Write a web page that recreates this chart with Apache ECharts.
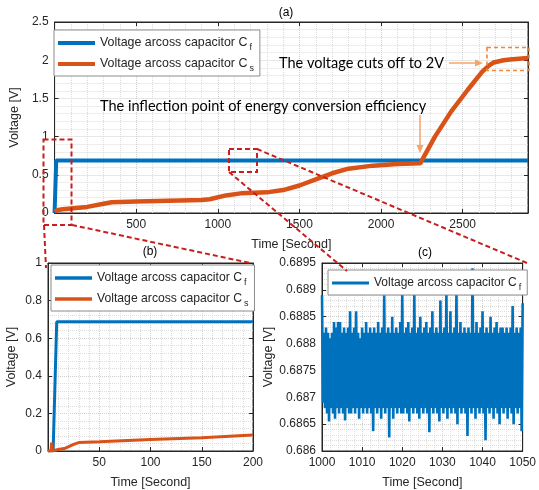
<!DOCTYPE html>
<html><head><meta charset="utf-8">
<script src="https://cdn.jsdelivr.net/npm/echarts@6/dist/echarts.min.js"></script>
<style>html,body{margin:0;padding:0;background:#fff}#c{width:539px;height:490px}</style>
</head><body><div id="c"></div>
<script>
// ---- Panel (a): full record ----
const cfTimeA = [0, 5, 10, 2900];
const cfVoltA = [0, 0, 0.6875, 0.6875];
const csTimeA = [0, 20, 50, 100, 200, 300, 350, 500, 700, 900, 950, 1050, 1150, 1300, 1400, 1500, 1600, 1700, 1800, 1950, 2100, 2240, 2330, 2430, 2530, 2620, 2660, 2690, 2750, 2790, 2900];
const csVoltA = [0.02, 0.04, 0.05, 0.06, 0.08, 0.12, 0.14, 0.15, 0.16, 0.17, 0.18, 0.23, 0.26, 0.27, 0.30, 0.36, 0.44, 0.52, 0.58, 0.62, 0.64, 0.65, 1.0, 1.33, 1.61, 1.85, 1.93, 1.97, 2.0, 2.01, 2.03];
// ---- Panel (b): first 200 s ----
const cfTimeB = [0, 5, 8.5, 200];
const cfVoltB = [0, 0, 0.6875, 0.6875];
const csTimeB = [0, 3, 3.5, 4, 6, 10, 17, 25, 30, 50, 100, 150, 200];
const csVoltB = [0, 0, 0.045, 0, 0.003, 0.008, 0.015, 0.035, 0.045, 0.049, 0.061, 0.07, 0.085];
// ---- Panel (c): 1000-1050 s, ripple envelope per 0.5 s sample ----
const cfZoomStart = 1000, cfZoomStep = 0.5;
const cfHigh = [0.6889,0.6882,0.6883,0.6882,0.6881,0.6882,0.6884,0.6883,0.6884,0.6884,0.6882,0.6883,0.6882,0.6883,0.6886,0.6882,0.6883,0.6886,0.6882,0.6881,0.6883,0.6882,0.6884,0.6882,0.6883,0.6882,0.6883,0.6882,0.6884,0.6882,0.6883,0.6889,0.6882,0.6883,0.6882,0.6885,0.6882,0.6883,0.6882,0.6884,0.68895,0.6882,0.6883,0.6884,0.6882,0.6883,0.68895,0.6882,0.6883,0.6885,0.6882,0.6883,0.6884,0.6882,0.6883,0.6886,0.6882,0.6883,0.6882,0.6888,0.6882,0.6883,0.68895,0.6882,0.6886,0.6882,0.6883,0.68895,0.6882,0.6884,0.6882,0.6883,0.6882,0.6883,0.6882,0.6894,0.6882,0.6884,0.6882,0.6883,0.6886,0.6882,0.6883,0.6882,0.6885,0.6882,0.6883,0.6884,0.6882,0.6883,0.6883,0.6882,0.6883,0.6882,0.6883,0.6887,0.6882,0.6883,0.6882,0.6883,0.68875];
const cfLow = [0.6869,0.6868,0.6867,0.68655,0.6868,0.6867,0.6866,0.6868,0.6867,0.6868,0.6867,0.68657,0.6868,0.6867,0.6867,0.6868,0.6867,0.6868,0.6866,0.6868,0.6867,0.6868,0.6867,0.6868,0.6867,0.68637,0.6868,0.6867,0.6868,0.6866,0.6868,0.6867,0.6868,0.68625,0.6868,0.6866,0.6868,0.6867,0.6868,0.6867,0.6867,0.6868,0.6867,0.68655,0.6868,0.6867,0.6868,0.6867,0.6866,0.6868,0.6867,0.6868,0.6867,0.68635,0.6868,0.6867,0.6868,0.6867,0.68655,0.6868,0.6867,0.6868,0.6866,0.6868,0.6867,0.6868,0.6867,0.6865,0.6868,0.6867,0.6868,0.6867,0.68628,0.6868,0.6867,0.6868,0.6866,0.6868,0.6867,0.6868,0.6867,0.6862,0.6868,0.6867,0.6868,0.6866,0.6868,0.6867,0.6865,0.6868,0.6867,0.6868,0.6866,0.6868,0.6867,0.6865,0.6868,0.6867,0.6868,0.68637,0.6869];
// ---- text ----
const legendNames = {Cf: ['Voltage arcoss capacitor C', 'f'], Cs: ['Voltage arcoss capacitor C', 's']};
const panelTitles = ['(a)', '(b)', '(c)'];
const xName = 'Time [Second]', yName = 'Voltage [V]';
const note1 = 'The voltage cuts off to 2V';
const note2 = 'The inflection point of energy conversion efficiency';

const zip = (a, b) => a.map((v, i) => [v, b[i]]);
const cfZoom = [];
cfHigh.forEach((h, i) => {
  const t = cfZoomStart + i * cfZoomStep;
  cfZoom.push([t, h]);
  if (i < cfHigh.length - 1) cfZoom.push([t + cfZoomStep / 2, cfLow[i]]);
});

const BLUE = '#0072BD', ORANGE = '#D95319', INK = '#262626', FONT = '"Liberation Sans", Arial, sans-serif';
const gridBox = {show: true, borderColor: INK, borderWidth: 1, backgroundColor: '#fff'};
const plain = v => String(parseFloat(Number(v).toFixed(5)));
function mainAxis(extra, labelExtra) {
  return Object.assign({
    type: 'value', nameLocation: 'middle',
    nameTextStyle: {color: INK, fontSize: 12.5, fontFamily: FONT},
    axisLine: {show: true, onZero: false, lineStyle: {color: INK, width: 1}},
    axisTick: {show: true, inside: true, length: 4, lineStyle: {color: INK}},
    axisLabel: Object.assign({color: INK, fontSize: 12, fontFamily: FONT, margin: 6, formatter: plain}, labelExtra || {}),
    splitLine: {show: true, lineStyle: {color: '#cfcfcf', type: 'dotted', width: 1}},
    minorTick: {show: false, splitNumber: 5},
    minorSplitLine: {show: true, lineStyle: {color: '#dcdcdc', type: 'dotted', width: 1}}
  }, extra);
}
function mirrorAxis(extra) {
  return Object.assign({
    type: 'value',
    axisLine: {show: true, onZero: false, lineStyle: {color: INK, width: 1}},
    axisTick: {show: true, inside: true, length: 4, lineStyle: {color: INK}},
    axisLabel: {show: false}, splitLine: {show: false}
  }, extra);
}
const xa = {min: 0, max: 2900, interval: 500};
const xb = {min: 0, max: 200, interval: 50};
const xc = {min: 1000, max: 1050, interval: 10};
const ya = {min: 0, max: 2.5, interval: 0.5};
const yb = {min: 0, max: 1, interval: 0.2};
const yc = {min: 0.686, max: 0.6895, interval: 0.0005};

function legendFmt(n) { return '{m|' + legendNames[n][0] + '}{s|' + legendNames[n][1] + '}'; }
function legend(left, top, data, ih, gap, fs) {
  return {
    orient: 'vertical', left: left, top: top, data: data, icon: 'rect',
    itemWidth: 37, itemHeight: ih, itemGap: gap,
    backgroundColor: '#fff', borderColor: '#8c8c8c', borderWidth: 1, borderRadius: 0,
    padding: [4, 6, 3, 4], selectedMode: false,
    formatter: legendFmt,
    textStyle: {color: INK, fontFamily: FONT, fontSize: fs,
      rich: {m: {fontSize: fs, fontFamily: FONT, color: INK, lineHeight: 18},
             s: {fontSize: 9, fontFamily: FONT, color: INK, padding: [9, 0, 0, 2], lineHeight: 18}}}
  };
}

const red = {stroke: '#C81E1E', lineWidth: 2, lineDash: [5, 3], fill: null};
const lightO = '#F4A46A';
function seg(x1, y1, x2, y2, style) { return {type: 'line', shape: {x1, y1, x2, y2}, style: Object.assign({}, style), z: 100}; }
function txt(x, y, t, font, align) {
  return {type: 'text', x: x, y: y, z: 100, style: {text: t, font: font, fill: '#000',
    textAlign: align || 'center', textVerticalAlign: 'middle', align: align || 'center', verticalAlign: 'middle'}};
}

const option = {
  animation: false,
  grid: [
    Object.assign({left: 44, top: 22, width: 484, height: 191}, gridBox),
    Object.assign({left: 48, top: 263, width: 205, height: 191}, gridBox),
    Object.assign({left: 322, top: 263, width: 207, height: 190}, gridBox)
  ],
  xAxis: [
    mainAxis(Object.assign({gridIndex: 0, name: xName, nameGap: 25}, xa), {showMinLabel: false, showMaxLabel: false}),
    mainAxis(Object.assign({gridIndex: 1, name: xName, nameGap: 25}, xb), {showMinLabel: false}),
    mainAxis(Object.assign({gridIndex: 2, name: xName, nameGap: 25}, xc)),
    mirrorAxis(Object.assign({gridIndex: 0, position: 'top'}, xa)),
    mirrorAxis(Object.assign({gridIndex: 1, position: 'top'}, xb)),
    mirrorAxis(Object.assign({gridIndex: 2, position: 'top'}, xc))
  ],
  yAxis: [
    mainAxis(Object.assign({gridIndex: 0, name: yName, nameGap: 29}, ya)),
    mainAxis(Object.assign({gridIndex: 1, name: yName, nameGap: 30}, yb)),
    mainAxis(Object.assign({gridIndex: 2, name: yName, nameGap: 46}, yc)),
    mirrorAxis(Object.assign({gridIndex: 0, position: 'right'}, ya)),
    mirrorAxis(Object.assign({gridIndex: 1, position: 'right'}, yb)),
    mirrorAxis(Object.assign({gridIndex: 2, position: 'right'}, yc))
  ],
  legend: [
    legend(54, 30, ['Cf', 'Cs'], 4, 3, 12.4),
    legend(51, 265, ['Cf', 'Cs'], 3.5, 3, 12.2),
    legend(328, 270, ['Cf'], 3, 3, 12)
  ],
  series: [
    {name: 'Cf', type: 'line', xAxisIndex: 0, yAxisIndex: 0, data: zip(cfTimeA, cfVoltA), showSymbol: false, color: BLUE, lineStyle: {width: 4}},
    {name: 'Cs', type: 'line', xAxisIndex: 0, yAxisIndex: 0, data: zip(csTimeA, csVoltA), showSymbol: false, color: ORANGE, lineStyle: {width: 4.5}},
    {name: 'Cf', type: 'line', xAxisIndex: 1, yAxisIndex: 1, data: zip(cfTimeB, cfVoltB), showSymbol: false, color: BLUE, lineStyle: {width: 3}},
    {name: 'Cs', type: 'line', xAxisIndex: 1, yAxisIndex: 1, data: zip(csTimeB, csVoltB), showSymbol: false, color: ORANGE, lineStyle: {width: 3}},
    {name: 'Cf', type: 'line', xAxisIndex: 2, yAxisIndex: 2, data: cfZoom, showSymbol: false, color: BLUE, lineStyle: {width: 2.6}}
  ],
  graphic: [
    {type: 'rect', shape: {x: 43.5, y: 139.5, width: 28, height: 85.5}, style: Object.assign({}, red), z: 100},
    {type: 'rect', shape: {x: 229, y: 149, width: 28, height: 23}, style: Object.assign({}, red), z: 100},
    seg(44, 225, 46, 268, red),
    seg(72, 225, 250, 263, red),
    seg(229, 172, 347, 271, red),
    seg(257, 149, 527, 263, red),
    {type: 'rect', shape: {x: 487, y: 47.5, width: 42, height: 23}, style: {stroke: '#F0883A', lineWidth: 1.6, lineDash: [4, 3], fill: null}, z: 100},
    seg(449, 63, 476, 63, {stroke: lightO, lineWidth: 1.5}),
    {type: 'polygon', shape: {points: [[483, 63], [475, 59.5], [475, 66.5]]}, style: {fill: lightO}, z: 100},
    seg(420, 115, 420, 146, {stroke: lightO, lineWidth: 1.5}),
    {type: 'polygon', shape: {points: [[420, 153], [416.5, 145], [423.5, 145]]}, style: {fill: lightO}, z: 100},
    txt(279, 63, note1, '14.5px Lato, "Open Sans", sans-serif', 'left'),
    txt(100, 106, note2, '14.5px Lato, "Open Sans", sans-serif', 'left'),
    txt(286, 13, panelTitles[0], '12px ' + FONT),
    txt(150, 252, panelTitles[1], '12px ' + FONT),
    txt(425, 253, panelTitles[2], '12px ' + FONT)
  ]
};
const chart = echarts.init(document.getElementById('c'), null, {renderer: 'canvas'});
chart.setOption(option);
</script></body></html>
